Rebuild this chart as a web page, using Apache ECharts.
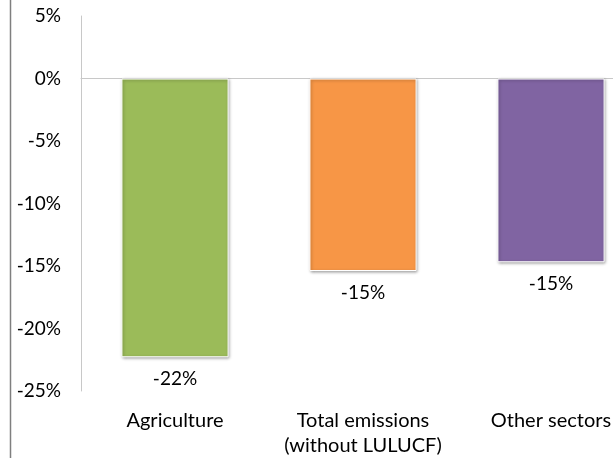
<!DOCTYPE html>
<html>
<head>
<meta charset="utf-8">
<script src="https://cdn.jsdelivr.net/npm/echarts@6/dist/echarts.min.js"></script>
<style>
  html, body { margin: 0; padding: 0; background: #fff; overflow: hidden; }
  #chart { width: 645px; height: 458px; }
</style>
</head>
<body>
<div id="chart"></div>
<script>
// Change in emissions by sector (%)
const categories = ['Agriculture', 'Total emissions\n(without LULUCF)', 'Other sectors'];
const changes = [-22.3, -15.4, -14.7];
const barColors = ['#9BBB59', '#F79646', '#8064A2'];
const yTicks = { min: -25, max: 5, step: 5 };

const font = 'Lato, "Open Sans", "Liberation Sans", sans-serif';

const chart = echarts.init(document.getElementById('chart'), null, { renderer: 'canvas' });

chart.setOption({
  animation: false,
  backgroundColor: '#ffffff',
  grid: { left: 81, top: 16, bottom: 66, right: 0 },
  graphic: [{
    type: 'line',
    shape: { x1: 10.5, y1: 0, x2: 10.5, y2: 458 },
    style: { stroke: '#7f7f7f', lineWidth: 1.5 }
  }],
  xAxis: {
    type: 'category',
    data: categories,
    axisLine: { onZero: true, lineStyle: { color: '#c8c8c8', width: 1 } },
    axisTick: { show: false },
    axisLabel: {
      position: 'bottom',
      color: '#000',
      fontSize: 20,
      fontFamily: font,
      lineHeight: 25,
      margin: 17,
      interval: 0
    }
  },
  yAxis: {
    type: 'value',
    min: yTicks.min,
    max: yTicks.max,
    interval: yTicks.step,
    axisLine: { show: true, lineStyle: { color: '#c8c8c8', width: 1 } },
    axisTick: { show: false },
    splitLine: { show: false },
    axisLabel: {
      color: '#000',
      fontSize: 19,
      fontFamily: font,
      margin: 20,
      formatter: v => v + '%'
    }
  },
  series: [{
    type: 'bar',
    data: changes.map((v, i) => ({ value: v, itemStyle: { color: barColors[i] } })),
    barCategoryGap: '43%',
    itemStyle: {
      borderColor: '#ffffff',
      borderWidth: 1,
      shadowColor: 'rgba(0,0,0,0.35)',
      shadowBlur: 3,
      shadowOffsetX: 1,
      shadowOffsetY: 1
    },
    label: {
      show: true,
      position: 'bottom',
      distance: 12,
      color: '#000',
      fontSize: 19,
      fontFamily: font,
      formatter: p => Math.round(p.value) + '%'
    }
  }]
});
</script>
</body>
</html>
